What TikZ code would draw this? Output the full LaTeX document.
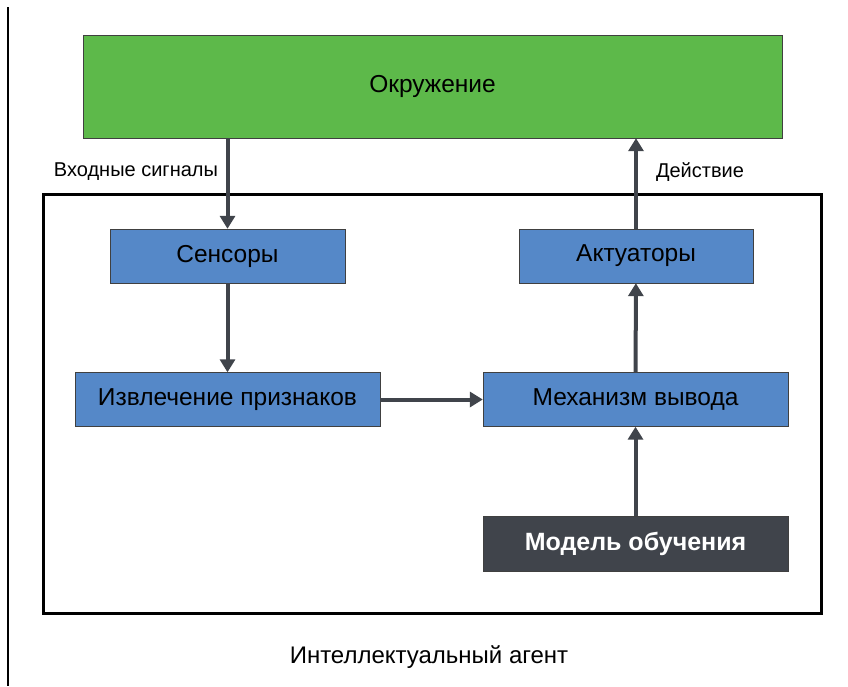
\documentclass[tikz,border=0pt]{standalone}
\usepackage{fontspec}
\setmainfont{Liberation Sans}
\usetikzlibrary{arrows.meta}
\definecolor{envgreen}{HTML}{5DB94A}
\definecolor{blockblue}{HTML}{5588C8}
\definecolor{modeldark}{HTML}{40444B}
\begin{document}
\begin{tikzpicture}[x=1pt,y=-1pt,
  block/.style={draw=black!75,fill=blockblue,inner sep=0pt,minimum height=54pt,font=\fontsize{24.5}{28}\selectfont},
  flow/.style={line width=4pt,draw=modeldark,-{Triangle[length=13pt,width=15pt]}},
  tag/.style={font=\fontsize{20}{24}\selectfont,inner sep=0pt}]
\useasboundingbox (0,0) rectangle (848,686);
% page edge
\draw[line width=1.5pt] (8,7) -- (8,686);
% environment
\node[draw=black!75,fill=envgreen,inner sep=0pt,minimum width=699pt,minimum height=103pt,font=\fontsize{24.5}{28}\selectfont] (env) at (432.5,86.5) {Окружение};
% agent frame
\draw[line width=3pt] (43,194) rectangle (821,613);
\node[font=\fontsize{24}{28}\selectfont,inner sep=0pt] (agent) at (429,657) {Интеллектуальный агент};
% blocks
\node[block,minimum width=235pt] (sens) at (227.5,256) {Сенсоры};
\node[block,minimum width=234pt] (act) at (636,256) {Актуаторы};
\node[block,minimum width=305pt] (feat) at (227.5,399.5) {Извлечение признаков};
\node[block,minimum width=305pt] (infer) at (635.5,399.5) {Механизм вывода};
\node[draw=black!75,fill=modeldark,text=white,inner sep=0pt,minimum width=305pt,minimum height=55pt,font=\fontsize{25}{29}\selectfont\bfseries] (model) at (635.5,543.5) {Модель обучения};
% arrows
\draw[flow] (env.south -| sens.north) -- (sens.north);
\draw[flow] (act.north) -- (env.south -| act.north);
\draw[flow] (sens) -- (feat);
\draw[flow] (feat) -- (infer);
\draw[flow] (model) -- (infer);
\draw[flow] (infer) -- (act);
% labels
\node[tag] (insig) at (136,172) {Входные сигналы};
\node[tag] (acttag) at (700,172) {Действие};
\end{tikzpicture}
\end{document}
